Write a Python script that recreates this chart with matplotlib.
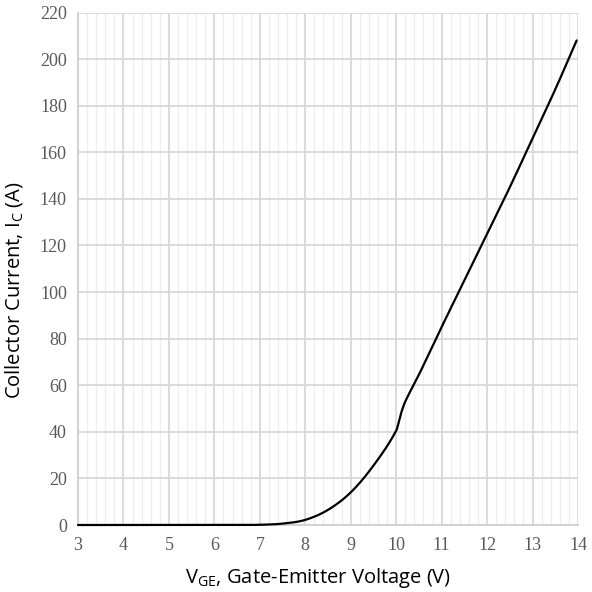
import numpy as np
import matplotlib
matplotlib.use("Agg")
import matplotlib.pyplot as plt
from matplotlib.ticker import MultipleLocator

# Transfer characteristic: collector current vs gate-emitter voltage
vge = [3, 4, 5, 6, 6.5, 7, 7.5, 8, 8.5, 9, 9.5, 10, 10.1, 10.2, 10.5,
       11, 11.5, 12, 12.5, 13, 13.5, 13.97]
ic = [0, 0, 0, 0, 0, 0.1, 0.6, 2.2, 6.5, 14, 25.5, 40.5, 47.5, 53, 64.5,
      85, 105, 125, 145, 166, 187, 208]

x_ticks = list(range(3, 15))
y_ticks = list(range(0, 221, 20))


def smooth_line(x, y, n=30):
    """Cubic Hermite smoothing through the points, tangents from neighbouring points."""
    x = np.asarray(x, float)
    y = np.asarray(y, float)
    m = np.empty_like(y)
    m[1:-1] = (y[2:] - y[:-2]) / (x[2:] - x[:-2])
    m[0] = (y[1] - y[0]) / (x[1] - x[0])
    m[-1] = (y[-1] - y[-2]) / (x[-1] - x[-2])
    # keep flat runs flat
    d = np.diff(y) / np.diff(x)
    for i in range(1, len(y) - 1):
        if d[i - 1] == 0 or d[i] == 0:
            m[i] = 0.0
    xs, ys = [], []
    t = np.linspace(0, 1, n, endpoint=False)
    for i in range(len(x) - 1):
        h = x[i + 1] - x[i]
        h00 = 2 * t**3 - 3 * t**2 + 1
        h10 = t**3 - 2 * t**2 + t
        h01 = -2 * t**3 + 3 * t**2
        h11 = t**3 - t**2
        xs.append(x[i] + t * h)
        ys.append(h00 * y[i] + h10 * h * m[i] + h01 * y[i + 1] + h11 * h * m[i + 1])
    xs.append([x[-1]])
    ys.append([y[-1]])
    return np.concatenate(xs), np.concatenate(ys)


fig = plt.figure(figsize=(5.92, 5.92), dpi=100)
ax = fig.add_axes([78 / 592, 1 - 525 / 592, 500 / 592, 512.5 / 592])

sx, sy = smooth_line(vge, ic)
ax.plot(sx, sy, color="black", lw=1.6, solid_capstyle="round", zorder=5, clip_on=False)

ax.set_xlim(3, 14)
ax.set_ylim(0, 220)
ax.xaxis.set_minor_locator(MultipleLocator(0.2))
ax.set_xticks(x_ticks)
ax.set_yticks(y_ticks)

ax.grid(which="major", color="#d9d9d9", lw=1.3, zorder=1)
ax.grid(which="minor", axis="x", color="#eeeeee", lw=0.9, zorder=0)
ax.set_axisbelow(True)

for side in ("top", "right"):
    ax.spines[side].set_visible(False)
for side in ("left", "bottom"):
    ax.spines[side].set_color("#d0d0d0")
    ax.spines[side].set_linewidth(1.3)

ax.tick_params(which="both", length=0)
ax.tick_params(axis="x", pad=9)
ax.tick_params(axis="y", pad=8)
for lab in ax.get_xticklabels() + ax.get_yticklabels():
    lab.set_fontfamily("Liberation Serif")
    lab.set_fontsize(13)
    lab.set_color("#595959")

label_font = dict(family="Open Sans", size=14.5, color="#000000")
ax.set_xlabel(r"V$_\mathregular{GE}$, Gate-Emitter Voltage (V)", labelpad=3, **label_font)
ax.set_ylabel(r"Collector Current, I$_\mathregular{C}$ (A)", labelpad=0, **label_font)
ax.xaxis.set_label_coords((318 - 78) / 500, -(566 - 525) / 512.5)
ax.yaxis.set_label_coords(-53 / 500, 0.5 - (290 - 268.75) / 512.5)

fig.savefig("out.png", dpi=100, facecolor="white")
